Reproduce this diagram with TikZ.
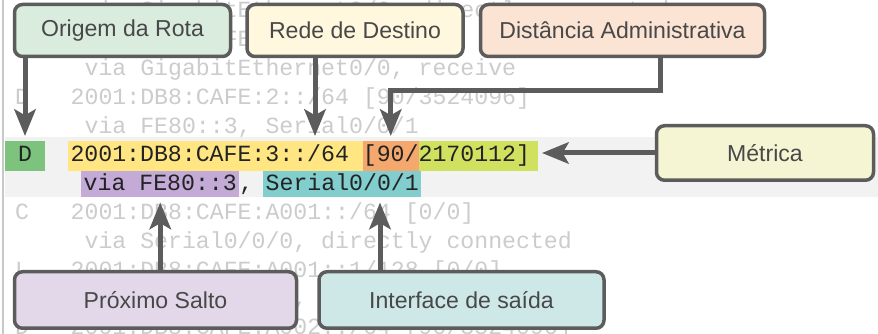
\documentclass[tikz,border=0pt]{standalone}
\usepackage{fontspec}
\setmainfont{Liberation Sans}
\newfontfamily\codefont{Liberation Mono}
\usetikzlibrary{arrows.meta,positioning}

\newdimen\px \px=0.75pt

\definecolor{edgegray}{RGB}{92,92,92}
\definecolor{tagtext}{RGB}{72,72,72}
\definecolor{fainttext}{RGB}{204,204,204}
\definecolor{codetext}{RGB}{35,35,35}
\definecolor{bandgray}{RGB}{242,242,242}
\definecolor{sidegray}{RGB}{200,200,200}
\definecolor{fillsrc}{RGB}{217,236,222}
\definecolor{fillnet}{RGB}{255,248,222}
\definecolor{fillad}{RGB}{252,228,212}
\definecolor{fillmet}{RGB}{245,245,212}
\definecolor{fillhop}{RGB}{226,216,234}
\definecolor{fillout}{RGB}{206,232,232}
\definecolor{hlsrc}{RGB}{125,195,125}
\definecolor{hlnet}{RGB}{255,230,130}
\definecolor{hlad}{RGB}{245,168,110}
\definecolor{hlmet}{RGB}{208,225,95}
\definecolor{hlvia}{RGB}{195,170,215}
\definecolor{hlser}{RGB}{130,205,205}

\begin{document}
\begin{tikzpicture} [
    x=0.75pt, y=-0.75pt,
    tag/.style={rectangle, rounded corners=8\px, draw=edgegray, line width=3.5\px, minimum height=52\px, text=tagtext, font=\fontsize{17.3pt}{20pt}\selectfont},
    codeline/.style={inner xsep=0pt, inner ysep=0pt, outer sep=0pt, text height=13pt, text depth=4pt, anchor=west, font=\codefont\fontsize{17.4pt}{20pt}\selectfont},
    faint/.style={codeline, text=fainttext},
    hlA/.style={codeline, text=codetext, inner ysep=2.75pt},
    hlB/.style={codeline, text=codetext, inner ysep=1.25pt},
    >={Stealth[length=20pt, width=16pt, inset=4.5pt]},
    arr/.style={->, draw=edgegray, line width=5\px, shorten >=5\px}
    ]
    \useasboundingbox (0,0) rectangle (878,334);
    \fill[white] (0,0) rectangle (878,334);
    \fill[bandgray] (5,137) rectangle (878,197);
    \draw[sidegray, line width=2\px] (2.5,0) -- (2.5,334);
    %Faint lines
    \node[faint] (l0)  at (84.6,12)    {via GigabitEthernet0/0, directly connected};
    \node[faint] (l1)  at (15,40.8)    {L~~~2001:DB8:CAFE:1::1/128 [0/0]};
    \node[faint] (l2)  at (84.6,69.6)  {via GigabitEthernet0/0, receive};
    \node[faint] (l3)  at (15,98.4)    {D~~~2001:DB8:CAFE:2::/64 [90/3524096]};
    \node[faint] (l4)  at (84.6,127.2) {via FE80::3, Serial0/0/1};
    \node[faint] (l7)  at (15,213.6)   {C~~~2001:DB8:CAFE:A001::/64 [0/0]};
    \node[faint] (l8)  at (84.6,242.4) {via Serial0/0/0, directly connected};
    \node[faint] (l9)  at (15,271.2)   {L~~~2001:DB8:CAFE:A001::1/128 [0/0]};
    \node[faint] (l10) at (84.6,300)   {via Serial0/0/0, receive};
    \node[faint] (l11) at (15,328.8)   {D~~~2001:DB8:CAFE:A002::/64 [90/3524096]};
    %Highlighted route
    \node[hlA, fill=hlsrc, minimum width=40\px] (src) at (5,156) {D};
    \node[hlA, fill=hlnet] (net) at (68,156) {\kern1.9pt 2001:DB8:CAFE:3::/64\kern.6em};
    \node[hlA, fill=hlad]  (ad)  [right=0pt of net] {[90/};
    \node[hlA, fill=hlmet] (met) [right=0pt of ad] {2170112]\kern6pt};
    \node[hlB, fill=hlvia] (via) at (81,184.5) {\kern2pt via FE80::3\kern2pt};
    \node[hlB]             (comma) [right=0pt of via] {,};
    \node[hlB, fill=hlser] (ser) at (263,184.5) {\kern2pt Serial0/0/1\kern2pt};
    %Tags
    \node[tag, fill=fillsrc, minimum width=216\px] (origem) at (122.5,30.5) {Origem da Rota};
    \node[tag, fill=fillnet, minimum width=216\px] (rede)   [right=13\px of origem] {Rede de Destino};
    \node[tag, fill=fillad,  minimum width=284\px] (dist)   [right=14\px of rede] {Distância Administrativa};
    \node[tag, fill=fillmet, minimum width=217\px, minimum height=54.5\px] (metrica) at (765,153) {Métrica};
    \node[tag, fill=fillhop, minimum width=282\px, minimum height=56.5\px] (salto)   at (155.5,300) {Próximo Salto};
    \node[tag, fill=fillout, minimum width=285\px, minimum height=56.5\px] (saida)   [right=19\px of salto] {Interface de saída};
    %Arrows
    \coordinate (rd)   at (315,0);
    \coordinate (bend) at (660,91);
    \coordinate (sd)   at (380,0);
    \draw[arr] (origem.south -| src.north) -- (src.north);
    \draw[arr] (rede.south -| rd) -- (net.north -| rd);
    \draw[arr] (dist.south -| bend) -- (bend) -| (ad.north);
    \draw[arr, shorten >=4\px] (metrica.west) -- (metrica.west -| met.east);
    \draw[arr] (salto.north -| via.south) -- (via.south);
    \draw[arr] (saida.north -| sd) -- (ser.south -| sd);
\end{tikzpicture}
\end{document}
